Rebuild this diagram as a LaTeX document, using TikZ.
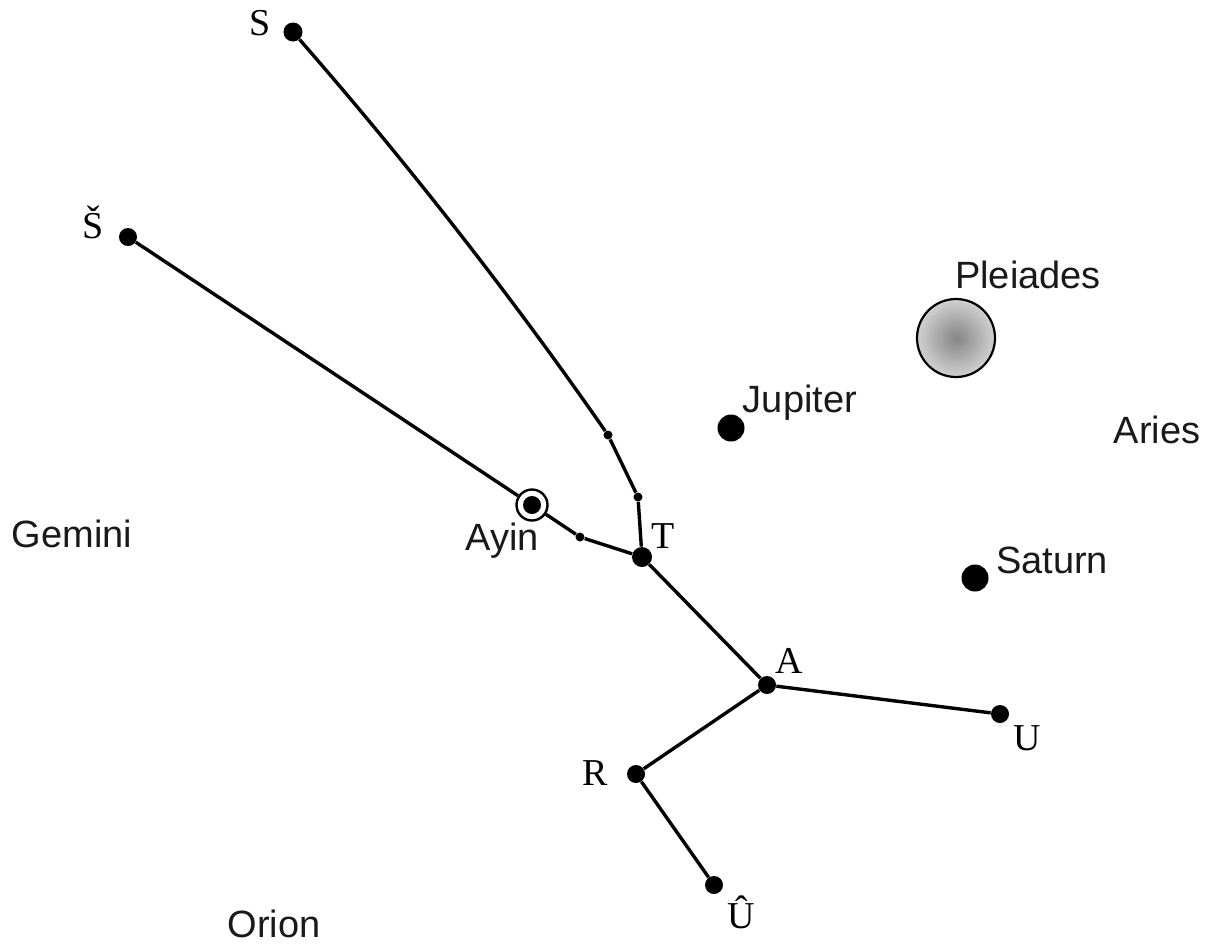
\documentclass[tikz,border=0pt]{standalone}
\usepackage{fontspec}
\setmainfont{Liberation Serif}
\setsansfont{Liberation Sans}
\begin{document}
\begin{tikzpicture}[x=0.5pt,y=-0.5pt,
  stardot/.style={circle,fill=black,inner sep=0pt,minimum size=#1},
  stardot/.default=8pt,
  planet/.style={circle,fill=black,inner sep=0pt,minimum size=13.5pt},
  edge/.style={line width=1.7pt,black},
  serlab/.style={font=\fontsize{19}{22}\selectfont,anchor=base,inner sep=0pt},
  sanlab/.style={font=\sffamily\fontsize{19}{22}\selectfont,anchor=base,inner sep=0pt,text=black!90}
]
\useasboundingbox (0,0) rectangle (1209,944);
% stars of the figure
\node[stardot=9.5pt] (S)  at (293,32) {};
\node[stardot=9pt] (Sh) at (128,237) {};
\node[stardot=4.5pt] (s1) at (608,435) {};
\node[stardot=4.5pt] (s2) at (638,497) {};
\node[stardot=4.5pt] (s3) at (580,537) {};
\node[circle,draw,fill=white,line width=1.2pt,inner sep=0pt,minimum size=15.5pt] (ayin) at (532,505) {};
\node[stardot=9pt] (ayindot) at (532,505) {};
\node[stardot=10pt] (T)  at (642,557) {};
\node[stardot=9pt] (A)  at (767,685) {};
\node[stardot=9pt] (U)  at (1000,714) {};
\node[stardot=9pt] (R)  at (636,774) {};
\node[stardot=9pt] (Uh) at (714,885) {};
% planets and Pleiades
\node[planet] (jup) at (731,428) {};
\node[planet] (sat) at (975,578) {};
\node[circle,draw,line width=1.1pt,inner sep=0pt,minimum size=39pt,
      inner color=black!48,outer color=black!18] (pl) at (956,338) {};
% connectors
\draw[edge] (S) .. controls (410,166) and (515,301) .. (s1) -- (s2) -- (T);
\draw[edge] (Sh) -- (ayin) -- (s3) -- (T);
\draw[edge] (T) -- (A) -- (U);
\draw[edge] (A) -- (R) -- (Uh);
% labels
\node[serlab] (lS)  at (260,35) {S};
\node[serlab] (lSh) at (93,238) {Š};
\node[serlab] (lT)  at (663,548) {T};
\node[serlab] (lA)  at (789,673) {A};
\node[serlab] (lU)  at (1027,750) {U};
\node[serlab] (lR)  at (595,785) {R};
\node[serlab] (lUh) at (741,928) {Û};
\node[sanlab] (lAyin) at (502,550) {Ayin};
\node[sanlab] (lGem)  at (72,547) {Gemini};
\node[sanlab] (lOri)  at (274,937) {Orion};
\node[sanlab] (lJup)  at (800,412) {Jupiter};
\node[sanlab] (lSat)  at (1052,573) {Saturn};
\node[sanlab] (lAri)  at (1157,443) {Aries};
\node[sanlab] (lPle)  at (1028,288) {Pleiades};
\end{tikzpicture}
\end{document}
